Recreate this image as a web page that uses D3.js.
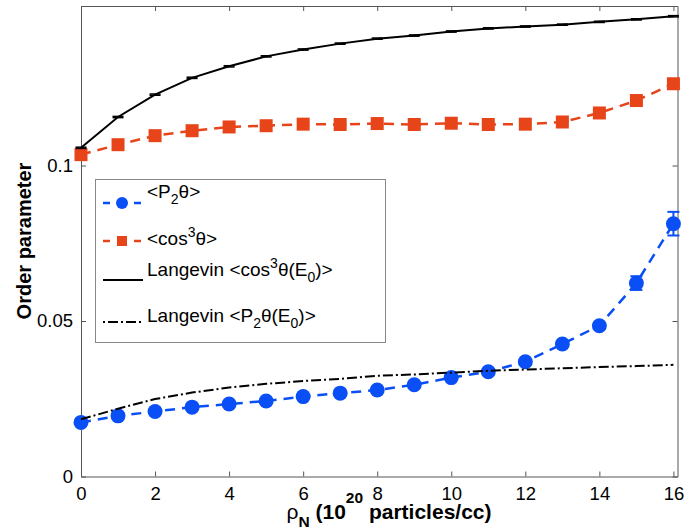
<!DOCTYPE html>
<html>
<head>
<meta charset="utf-8">
<script src="https://cdn.jsdelivr.net/npm/d3@7"></script>
<style>
  html, body { margin: 0; padding: 0; background: #fff; }
  svg { display: block; font-family: "Liberation Sans", Arial, Helvetica, sans-serif; }
</style>
</head>
<body>
<svg id="chart" width="684" height="531"></svg>
<script>
// Particle density (10^20 particles/cc)
const density = [0, 1, 2, 3, 4, 5, 6, 7, 8, 9, 10, 11, 12, 13, 14, 15, 16];

// Simulated <P2θ> with its error
const p2Sim    = [0.0174, 0.0195, 0.0209, 0.0223, 0.0233, 0.0243, 0.0257, 0.0268, 0.0278, 0.0295, 0.0318, 0.0337, 0.0369, 0.0426, 0.0485, 0.0622, 0.0813];
const p2SimErr = [0.0003, 0.0003, 0.0003, 0.0003, 0.0003, 0.0003, 0.0003, 0.0003, 0.0003, 0.0004, 0.0004, 0.0005, 0.0006, 0.0007, 0.0010, 0.0022, 0.0038];

// Simulated <cos^3 θ> with its error
const cos3Sim    = [0.1035, 0.1067, 0.1096, 0.1112, 0.1124, 0.1128, 0.1133, 0.1132, 0.1135, 0.1132, 0.1136, 0.1132, 0.1133, 0.1140, 0.1169, 0.1209, 0.1263];
const cos3SimErr = [0.0003, 0.0003, 0.0003, 0.0003, 0.0003, 0.0003, 0.0003, 0.0003, 0.0003, 0.0003, 0.0003, 0.0003, 0.0003, 0.0004, 0.0005, 0.0007, 0.0008];

// Langevin model predictions
const cos3Langevin = [0.1057, 0.1156, 0.1228, 0.1282, 0.1319, 0.1351, 0.1373, 0.1392, 0.1408, 0.1418, 0.1431, 0.1441, 0.1447, 0.1453, 0.1462, 0.1470, 0.1480];
const cos3LangErr  = [0.0002, 0.0002, 0.0002, 0.0002, 0.0002, 0.0002, 0.0002, 0.0002, 0.0002, 0.0002, 0.0002, 0.0002, 0.0002, 0.0002, 0.0002, 0.0002, 0.0002];
const p2Langevin   = [0.0184, 0.0218, 0.0249, 0.0270, 0.0286, 0.0298, 0.0307, 0.0314, 0.0324, 0.0328, 0.0334, 0.0340, 0.0344, 0.0348, 0.0352, 0.0355, 0.0359];

const xTicks = [0, 2, 4, 6, 8, 10, 12, 14, 16];
const yTicks = [0, 0.05, 0.1];
const yTickLabels = ["0", "0.05", "0.1"];

const BLUE = "#0a4ff5";
const RED = "#e8441a";
const AXIS = "#555";

const svg = d3.select("#chart");
const plotLeft = 81, plotRight = 677.5, plotTop = 6, plotBottom = 476.5;

const x = d3.scaleLinear().domain([0, 16.11]).range([plotLeft, plotRight]);
const y = d3.scaleLinear().domain([0, 0.1513]).range([plotBottom, plotTop]);

// Axes box with inward ticks on all four sides
const tickLen = 5;
const bottomAxis = d3.axisBottom(x).tickValues(xTicks).tickSizeInner(-tickLen).tickSizeOuter(0).tickPadding(10.5).tickFormat(d3.format("d"));
const topAxis = d3.axisTop(x).tickValues(xTicks).tickSizeInner(-tickLen).tickSizeOuter(0).tickFormat("");
const leftAxis = d3.axisLeft(y).tickValues(yTicks).tickSizeInner(-tickLen).tickSizeOuter(0).tickPadding(8).tickFormat((d, i) => yTickLabels[i]);
const rightAxis = d3.axisRight(y).tickValues(yTicks).tickSizeInner(-tickLen).tickSizeOuter(0).tickFormat("");

function styleAxis(g) {
  g.select(".domain").attr("stroke", AXIS).attr("stroke-width", 1);
  g.selectAll(".tick line").attr("stroke", AXIS).attr("stroke-width", 1);
  g.selectAll(".tick text").attr("fill", "#000").attr("font-size", 18.5).attr("font-family", "Liberation Sans, Arial, sans-serif");
}

svg.append("g").attr("transform", `translate(0,${plotBottom})`).call(bottomAxis).call(styleAxis);
svg.append("g").attr("transform", `translate(0,${plotTop})`).call(topAxis).call(styleAxis);
svg.append("g").attr("transform", `translate(${plotLeft},0)`).call(leftAxis).call(styleAxis);
svg.append("g").attr("transform", `translate(${plotRight},0)`).call(rightAxis).call(styleAxis);

// Axis titles
svg.append("text")
  .attr("transform", `translate(24,${241}) rotate(-90)`)
  .attr("text-anchor", "middle")
  .attr("dominant-baseline", "central")
  .attr("font-size", 20).attr("font-weight", "bold")
  .text("Order parameter");

const xTitle = svg.append("text")
  .attr("x", 389).attr("y", 519)
  .attr("text-anchor", "middle")
  .attr("font-size", 21).attr("font-weight", "bold");
xTitle.append("tspan").attr("font-weight", "normal").text("ρ");
xTitle.append("tspan").attr("font-size", 15.5).attr("dy", 8).text("N");
xTitle.append("tspan").attr("dy", -8).text(" (10");
xTitle.append("tspan").attr("font-size", 15.5).attr("dy", -16).text("20");
xTitle.append("tspan").attr("dy", 16).text(" particles/cc)");

const plot = svg.append("g");

// Error bars with caps
function errorBars(values, errs, color, width, capHalf) {
  const g = plot.append("g").attr("stroke", color).attr("stroke-width", width);
  density.forEach((d, i) => {
    const cx = x(d), y1 = y(values[i] + errs[i]), y0 = y(values[i] - errs[i]);
    g.append("line").attr("x1", cx).attr("x2", cx).attr("y1", y1).attr("y2", y0);
    g.append("line").attr("x1", cx - capHalf).attr("x2", cx + capHalf).attr("y1", y1).attr("y2", y1);
    g.append("line").attr("x1", cx - capHalf).attr("x2", cx + capHalf).attr("y1", y0).attr("y2", y0);
  });
}

const line = vals => d3.line().x((d, i) => x(density[i])).y((d, i) => y(vals[i]))(vals);

// Simulated <P2θ>: dashed blue with filled circles
plot.append("path").attr("d", line(p2Sim)).attr("fill", "none")
  .attr("stroke", BLUE).attr("stroke-width", 2.5).attr("stroke-dasharray", "10,7");
errorBars(p2Sim, p2SimErr, BLUE, 2, 6);
plot.append("g").selectAll("circle").data(p2Sim).join("circle")
  .attr("cx", (d, i) => x(density[i])).attr("cy", d => y(d)).attr("r", 7.5).attr("fill", BLUE);

// Simulated <cos^3 θ>: dashed red with filled squares
plot.append("path").attr("d", line(cos3Sim)).attr("fill", "none")
  .attr("stroke", RED).attr("stroke-width", 2.5).attr("stroke-dasharray", "10,7");
errorBars(cos3Sim, cos3SimErr, RED, 2, 6);
const sq = 13;
plot.append("g").selectAll("rect").data(cos3Sim).join("rect")
  .attr("x", (d, i) => x(density[i]) - sq / 2).attr("y", d => y(d) - sq / 2)
  .attr("width", sq).attr("height", sq).attr("fill", RED);

// Langevin <cos^3 θ(E0)>: solid black
plot.append("path").attr("d", line(cos3Langevin)).attr("fill", "none")
  .attr("stroke", "#000").attr("stroke-width", 2);
errorBars(cos3Langevin, cos3LangErr, "#000", 1.5, 5.5);

// Langevin <P2θ(E0)>: black dash-dot
plot.append("path").attr("d", line(p2Langevin)).attr("fill", "none")
  .attr("stroke", "#000").attr("stroke-width", 2).attr("stroke-dasharray", "10,3,2,3");

// Legend
const legend = svg.append("g");
legend.append("rect").attr("x", 95.5).attr("y", 179.5).attr("width", 290).attr("height", 163)
  .attr("fill", "#fff").attr("stroke", "#888").attr("stroke-width", 1);

const lx0 = 103, lx1 = 141, tx = 147;
const legendRows = [
  { my: 203, ty: 198 },
  { my: 241, ty: 245 },
  { my: 280, ty: 276 },
  { my: 322, ty: 322 }
];

// row 1: <P2θ>
legend.append("line").attr("x1", lx0).attr("x2", lx1).attr("y1", legendRows[0].my).attr("y2", legendRows[0].my)
  .attr("stroke", BLUE).attr("stroke-width", 2.5).attr("stroke-dasharray", "7,24");
legend.append("circle").attr("cx", (lx0 + lx1) / 2).attr("cy", legendRows[0].my).attr("r", 6).attr("fill", BLUE);

// row 2: <cos^3 θ>
legend.append("line").attr("x1", lx0).attr("x2", lx1).attr("y1", legendRows[1].my).attr("y2", legendRows[1].my)
  .attr("stroke", RED).attr("stroke-width", 2.5).attr("stroke-dasharray", "7,24");
legend.append("rect").attr("x", (lx0 + lx1) / 2 - 5).attr("y", legendRows[1].my - 5).attr("width", 10).attr("height", 10).attr("fill", RED);

// row 3: Langevin <cos^3 θ(E0)>
legend.append("line").attr("x1", lx0).attr("x2", lx1 + 2).attr("y1", legendRows[2].my).attr("y2", legendRows[2].my)
  .attr("stroke", "#000").attr("stroke-width", 2);

// row 4: Langevin <P2θ(E0)>
legend.append("line").attr("x1", lx0).attr("x2", lx1).attr("y1", legendRows[3].my).attr("y2", legendRows[3].my)
  .attr("stroke", "#000").attr("stroke-width", 2).attr("stroke-dasharray", "2,3,10,3");

function legendText(row, parts) {
  const t = legend.append("text").attr("x", tx).attr("y", legendRows[row].ty).attr("font-size", 19);
  parts.forEach(p => {
    const s = t.append("tspan").text(p.t);
    if (p.sub) s.attr("font-size", 14).attr("dy", 6);
    if (p.sup) s.attr("font-size", 14).attr("dy", -8);
    if (p.back) s.attr("dy", p.back);
  });
}
legendText(0, [{ t: "<P" }, { t: "2", sub: true }, { t: "θ>", back: -6 }]);
legendText(1, [{ t: "<cos" }, { t: "3", sup: true }, { t: "θ>", back: 8 }]);
legendText(2, [{ t: "Langevin <cos" }, { t: "3", sup: true }, { t: "θ(E", back: 8 }, { t: "0", sub: true }, { t: ")>", back: -6 }]);
legendText(3, [{ t: "Langevin <P" }, { t: "2", sub: true }, { t: "θ(E", back: -6 }, { t: "0", sub: true }, { t: ")>", back: -6 }]);
</script>
</body>
</html>
